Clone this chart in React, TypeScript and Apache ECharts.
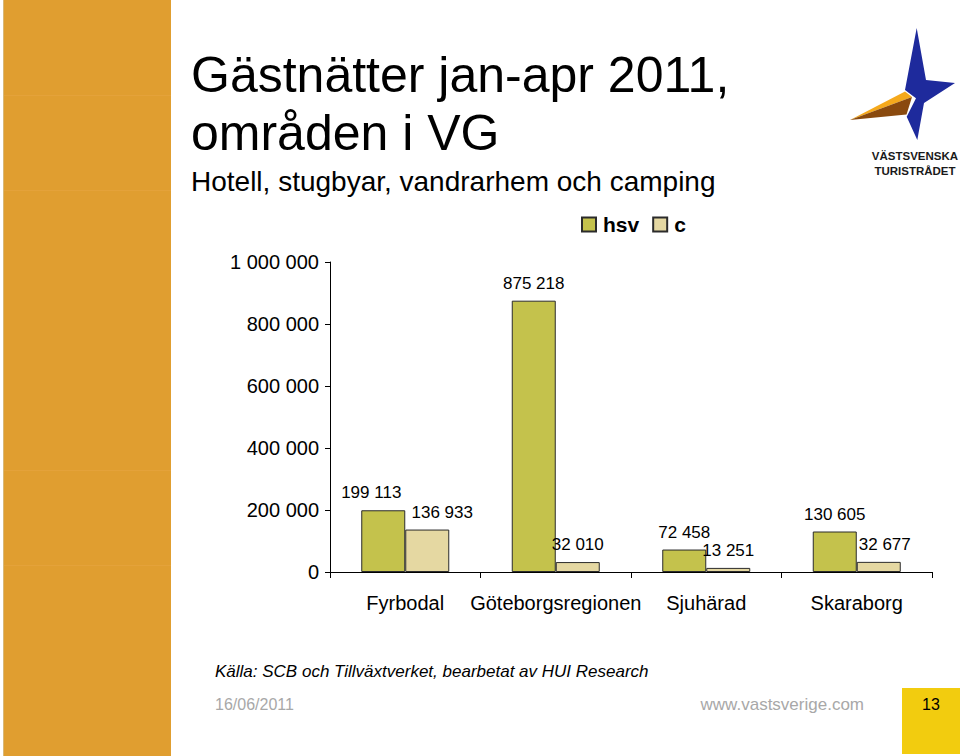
import React, { useEffect, useRef } from "react";
import * as echarts from "echarts";

const categories = ["Fyrbodal", "Göteborgsregionen", "Sjuhärad", "Skaraborg"];
const hsvValues = [199113, 875218, 72458, 130605];
const cValues = [136933, 32010, 13251, 32677];
const seriesNames = ["hsv", "c"];
const yTicks = { min: 0, max: 1000000, interval: 200000 };

const FONT = "'Liberation Sans', Arial, Helvetica, sans-serif";

const fmt = (v: number) => String(Math.round(v)).replace(/\B(?=(\d{3})+(?!\d))/g, " ");

export default function App() {
  const ref = useRef<HTMLDivElement>(null);
  useEffect(() => {
    if (!ref.current) return;
    const chart = echarts.init(ref.current, undefined, { renderer: "svg" });

    const hsvOffsets: Record<number, number[]> = { 0: [-12, 0] };
    const cOffsets: Record<number, number[]> = { 0: [15, 0], 3: [6, 0] };

    const mk = (vals: number[], offs: Record<number, number[]>) =>
      vals.map((v, i) => (offs[i] ? { value: v, label: { offset: offs[i] } } : { value: v }));

    const orangeLines = [95, 190, 470, 565];

    chart.setOption({
      animation: false,
      backgroundColor: "#ffffff",
      textStyle: { fontFamily: FONT },
      grid: { left: 330, right: 28, top: 262, bottom: 184, containLabel: false },
      legend: {
        left: 576,
        top: 209,
        itemWidth: 14,
        itemHeight: 14,
        itemGap: 13,
        icon: "rect",
        textStyle: { fontFamily: FONT, fontSize: 21, fontWeight: "bold", color: "#000", padding: [0, 0, 0, 2] },
        data: seriesNames,
      },
      xAxis: {
        type: "category",
        data: categories,
        axisLine: { show: true, lineStyle: { color: "#000", width: 1 } },
        axisTick: { show: true, length: 6, alignWithLabel: false, lineStyle: { color: "#000" } },
        axisLabel: { fontFamily: FONT, fontSize: 20, color: "#000", margin: 21, interval: 0 },
        splitLine: { show: false },
      },
      yAxis: {
        type: "value",
        min: yTicks.min,
        max: yTicks.max,
        interval: yTicks.interval,
        axisLine: { show: true, lineStyle: { color: "#000", width: 1 } },
        axisTick: { show: true, length: 5, lineStyle: { color: "#000" } },
        axisLabel: { fontFamily: FONT, fontSize: 20, color: "#000", margin: 11, formatter: (v: number) => fmt(v) },
        splitLine: { show: false },
      },
      series: [
        {
          name: seriesNames[0],
          type: "bar",
          data: mk(hsvValues, hsvOffsets),
          barWidth: 44,
          barGap: "0%",
          itemStyle: { color: "#C4C24C", borderColor: "#2b2b2b", borderWidth: 1 },
          label: {
            show: true,
            position: "top",
            distance: 9,
            fontFamily: FONT,
            fontSize: 17,
            color: "#000",
            formatter: (p: any) => fmt(p.value),
          },
        },
        {
          name: seriesNames[1],
          type: "bar",
          data: mk(cValues, cOffsets),
          barWidth: 44,
          barGap: "0%",
          itemStyle: { color: "#E5D8A2", borderColor: "#2b2b2b", borderWidth: 1 },
          label: {
            show: true,
            position: "top",
            distance: 9,
            fontFamily: FONT,
            fontSize: 17,
            color: "#000",
            formatter: (p: any) => fmt(p.value),
          },
        },
      ],
      graphic: [
        { type: "rect", shape: { x: 4, y: 0, width: 167, height: 756 }, style: { fill: "#E09E30" }, z: 0 },
        { type: "line", shape: { x1: 3.5, y1: 0, x2: 3.5, y2: 756 }, style: { stroke: "#D8B878", lineWidth: 1 } },
        ...orangeLines.map((y) => ({
          type: "line",
          shape: { x1: 4, y1: y + 0.5, x2: 171, y2: y + 0.5 },
          style: { stroke: "#E4A23A", lineWidth: 1 },
        })),
        {
          type: "text",
          style: { text: "Gästnätter jan-apr 2011,", x: 191, y: 75, fill: "#000", font: `50px ${FONT}`, verticalAlign: "middle" },
        },
        {
          type: "text",
          style: { text: "områden i VG", x: 191, y: 133, fill: "#000", font: `50px ${FONT}`, verticalAlign: "middle" },
        },
        {
          type: "text",
          style: { text: "Hotell, stugbyar, vandrarhem och camping", x: 191, y: 181, fill: "#000", font: `28px ${FONT}`, verticalAlign: "middle" },
        },
        // logo
        {
          type: "polygon",
          shape: { points: [[916.7, 28], [926, 80], [955, 83], [924, 103], [917.3, 140], [906.7, 116.7], [916, 98.3], [905, 90]] },
          style: { fill: "#1E2A9C" },
        },
        {
          type: "polygon",
          shape: { points: [[850, 120], [905, 91.5], [912, 97]] },
          style: { fill: "#F5A91C" },
        },
        {
          type: "polygon",
          shape: { points: [[850, 120], [912, 97], [906.5, 114.5]] },
          style: { fill: "#8A4A0E" },
        },
        {
          type: "text",
          style: { text: "VÄSTSVENSKA", x: 915, y: 156, fill: "#1a1a1a", font: `bold 11.5px ${FONT}`, align: "center", verticalAlign: "middle" },
        },
        {
          type: "text",
          style: { text: "TURISTRÅDET", x: 915, y: 171, fill: "#1a1a1a", font: `bold 11.5px ${FONT}`, align: "center", verticalAlign: "middle" },
        },
        // footer
        {
          type: "text",
          style: { text: "Källa: SCB och Tillväxtverket, bearbetat av HUI Research", x: 215, y: 671, fill: "#000", font: `italic 17px ${FONT}`, verticalAlign: "middle" },
        },
        {
          type: "text",
          style: { text: "16/06/2011", x: 215, y: 704, fill: "#A8A8A8", font: `16px ${FONT}`, verticalAlign: "middle" },
        },
        {
          type: "text",
          style: { text: "www.vastsverige.com", x: 864, y: 704, fill: "#A8A8A8", font: `17px ${FONT}`, align: "right", verticalAlign: "middle" },
        },
        { type: "rect", shape: { x: 902, y: 688, width: 58, height: 66 }, style: { fill: "#F2CC0F" } },
        {
          type: "text",
          style: { text: "13", x: 931, y: 704, fill: "#000", font: `16px ${FONT}`, align: "center", verticalAlign: "middle" },
        },
      ],
    });
    return () => chart.dispose();
  }, []);
  return <div ref={ref} style={{ position: "absolute", left: 0, top: 0, width: 960, height: 756 }} />;
}
